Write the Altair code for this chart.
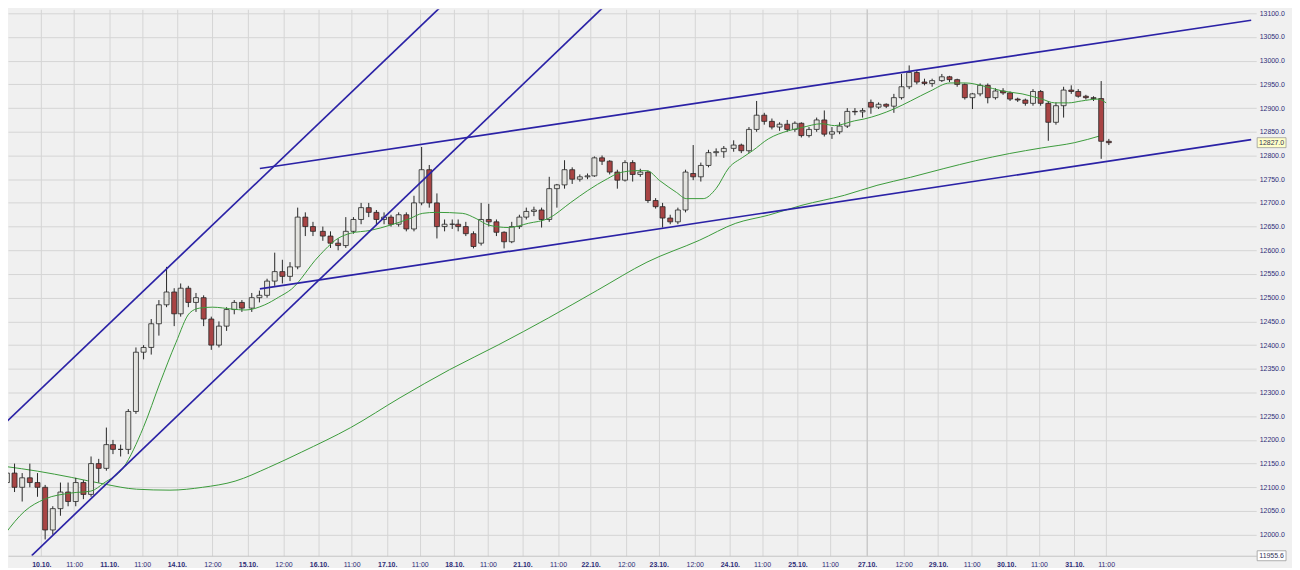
import altair as alt
import pandas as pd

# ---------------- data ----------------
days = ["09.10.", "10.10.", "11.10.", "14.10.", "15.10.", "16.10.", "17.10.", "18.10.",
        "21.10.", "22.10.", "23.10.", "24.10.", "25.10.", "27.10.", "29.10.", "30.10.", "31.10."]
# axis positions (in "day" units) of the date ticks and mid-day ticks
date_pos = [0.0, 0.985, 1.968, 3.0, 4.032, 5.022, 5.997, 6.986, 7.975, 8.965,
            9.997, 10.98, 11.99, 13.02, 14.01, 15.0]
mid_pos = [0.477, 1.464, 2.485, 3.517, 4.506, 5.495, 6.485, 7.503, 8.492, 9.488,
           10.465, 11.452, 12.52, 13.51, 14.485, 15.46]
mid_lab = ["11:00", "11:00", "12:00", "12:00", "11:00", "11:00", "11:00", "11:00",
           "12:00", "12:00", "11:00", "11:00", "12:00", "11:00", "11:00", "11:00"]
day_start = [-1.0] + date_pos
first_slot = [4] + [0] * 16
n_slots = [5] + [9] * 15 + [5]
SLOTS_PER_DAY = 9

open_ = [
    12110, 12130, 12100, 12120, 12110,
    12100, 12010, 12055, 12090, 12070, 12110, 12085, 12150, 12140,
    12190, 12180, 12180, 12260, 12385, 12395, 12445, 12485, 12512,
    12466, 12520, 12490, 12500, 12455, 12400, 12440, 12475, 12490,
    12478, 12500, 12505, 12535, 12555, 12545, 12565, 12670, 12650,
    12640, 12630, 12615, 12610, 12640, 12665, 12690, 12680, 12665,
    12670, 12655, 12675, 12645, 12700, 12770, 12700, 12650, 12655,
    12655, 12650, 12635, 12615, 12665, 12660, 12638, 12618, 12650,
    12670, 12682, 12685, 12665, 12730, 12738, 12770, 12750, 12755,
    12757, 12795, 12788, 12765, 12748, 12785, 12760, 12765, 12705,
    12692, 12668, 12660, 12685, 12762, 12755, 12779, 12806, 12808,
    12815, 12822, 12810, 12855, 12885, 12872, 12860, 12866, 12855,
    12868, 12842, 12855, 12875, 12845, 12850, 12862, 12893, 12892,
    12912, 12902, 12908, 12904, 12922, 12945, 12975, 12955, 12952,
    12958, 12966, 12960, 12950, 12922, 12930, 12948, 12922, 12936,
    12932, 12919, 12917, 12910, 12935, 12910, 12870, 12905, 12938,
    12935, 12925, 12922, 12920, 12830,
]
high = [
    12140, 12150, 12130, 12150, 12130,
    12105, 12060, 12110, 12110, 12120, 12115, 12165, 12160, 12226,
    12200, 12190, 12265, 12395, 12400, 12455, 12495, 12565, 12520,
    12530, 12525, 12510, 12505, 12460, 12450, 12480, 12495, 12495,
    12510, 12515, 12540, 12595, 12580, 12575, 12690, 12680, 12660,
    12650, 12640, 12625, 12670, 12670, 12700, 12700, 12685, 12680,
    12675, 12680, 12680, 12715, 12818, 12780, 12720, 12665, 12665,
    12665, 12660, 12640, 12700, 12698, 12665, 12640, 12660, 12675,
    12690, 12692, 12690, 12755, 12740, 12790, 12775, 12760, 12762,
    12798, 12800, 12790, 12770, 12790, 12790, 12772, 12768, 12710,
    12700, 12675, 12690, 12770, 12822, 12785, 12812, 12815, 12820,
    12832, 12825, 12860, 12915, 12890, 12878, 12870, 12875, 12872,
    12870, 12860, 12880, 12895, 12860, 12870, 12900, 12900, 12900,
    12918, 12912, 12910, 12930, 12972, 12990, 12980, 12962, 12962,
    12972, 12968, 12962, 12952, 12932, 12952, 12952, 12942, 12942,
    12935, 12922, 12920, 12940, 12938, 12915, 12912, 12945, 12948,
    12940, 12928, 12925, 12957, 12835,
]
low = [
    12060, 12090, 12070, 12100, 12080,
    11990, 12000, 12040, 12060, 12060, 12075, 12080, 12110, 12135,
    12170, 12165, 12170, 12255, 12370, 12380, 12420, 12480, 12440,
    12460, 12480, 12470, 12440, 12390, 12395, 12430, 12465, 12470,
    12470, 12490, 12500, 12525, 12530, 12535, 12560, 12630, 12630,
    12620, 12605, 12600, 12605, 12635, 12655, 12670, 12655, 12655,
    12650, 12650, 12640, 12640, 12695, 12690, 12625, 12640, 12645,
    12640, 12630, 12604, 12610, 12650, 12630, 12604, 12615, 12645,
    12665, 12672, 12648, 12660, 12690, 12730, 12740, 12745, 12750,
    12755, 12780, 12760, 12730, 12745, 12745, 12755, 12700, 12688,
    12648, 12655, 12655, 12680, 12748, 12745, 12775, 12798, 12795,
    12808, 12805, 12805, 12850, 12865, 12855, 12852, 12850, 12850,
    12838, 12838, 12850, 12840, 12835, 12845, 12858, 12885, 12880,
    12888, 12898, 12900, 12890, 12918, 12940, 12950, 12948, 12945,
    12955, 12955, 12945, 12918, 12898, 12925, 12910, 12918, 12928,
    12915, 12913, 12905, 12905, 12905, 12831, 12865, 12880, 12930,
    12922, 12918, 12915, 12793, 12822,
]
close = [
    12130, 12100, 12120, 12110, 12100,
    12010, 12055, 12090, 12070, 12110, 12085, 12150, 12140, 12190,
    12180, 12180, 12260, 12385, 12395, 12445, 12485, 12512, 12466,
    12520, 12490, 12500, 12455, 12400, 12440, 12475, 12490, 12478,
    12500, 12505, 12535, 12555, 12545, 12565, 12670, 12650, 12640,
    12630, 12615, 12610, 12640, 12665, 12690, 12680, 12665, 12670,
    12655, 12675, 12645, 12700, 12770, 12700, 12650, 12655, 12655,
    12650, 12635, 12608, 12665, 12660, 12638, 12618, 12650, 12670,
    12682, 12685, 12665, 12730, 12738, 12770, 12750, 12755, 12757,
    12795, 12788, 12765, 12748, 12785, 12760, 12765, 12705, 12692,
    12668, 12660, 12685, 12765, 12755, 12779, 12806, 12808, 12815,
    12822, 12810, 12855, 12885, 12872, 12860, 12866, 12855, 12868,
    12842, 12855, 12875, 12845, 12850, 12862, 12893, 12892, 12895,
    12902, 12908, 12904, 12922, 12945, 12975, 12955, 12952, 12958,
    12966, 12960, 12950, 12922, 12930, 12948, 12922, 12936, 12932,
    12919, 12917, 12910, 12935, 12910, 12870, 12905, 12938, 12935,
    12925, 12922, 12920, 12830, 12827,
]

# short moving average
ma_short_t = [-0.526, -0.239, 0.047, 0.434, 0.721, 0.908, 1.194, 1.481, 1.725, 1.954,
              2.155, 2.298, 2.485, 2.771, 2.958, 3.245, 3.446, 3.632, 4.019, 4.306,
              4.493, 4.778, 5.065, 5.352, 5.538, 5.739, 6.112, 6.313, 6.499, 6.786,
              7.073, 7.359, 7.689, 7.933, 8.220, 8.406, 8.650, 8.793, 8.979, 9.223,
              9.366, 9.610, 9.796, 9.983, 10.184, 10.327, 10.556, 10.843, 11.044, 11.331,
              11.517, 11.804, 11.947, 12.377, 12.621, 12.908, 13.194, 13.424, 13.667, 13.954,
              14.241, 14.527, 14.714, 14.915, 15.101, 15.345, 15.460]
ma_short_v = [12002, 12050, 12075, 12088, 12092, 12109, 12142, 12226, 12321, 12405,
              12468, 12478, 12480, 12476, 12474, 12485, 12501, 12518, 12586, 12625,
              12636, 12642, 12653, 12667, 12678, 12680, 12678, 12667, 12653, 12648,
              12657, 12667, 12701, 12726, 12751, 12764, 12768, 12768, 12747, 12722,
              12709, 12709, 12730, 12774, 12796, 12810, 12835, 12852, 12859, 12867,
              12863, 12873, 12877, 12898, 12915, 12936, 12953, 12953, 12947, 12936,
              12930, 12919, 12911, 12911, 12915, 12919, 12911]

# long moving average
ma_long_t = [-0.526, -0.053, 0.434, 0.908, 1.381, 1.868, 2.341, 2.814, 3.302, 3.775,
             4.492, 5.209, 5.926, 6.643, 7.360, 8.077, 8.794, 9.553, 10.083, 10.556,
             11.044, 11.660, 12.133, 12.621, 13.094, 13.567, 14.054, 14.527, 15.000, 15.387]
ma_long_v = [12144, 12134, 12121, 12107, 12096, 12094, 12100, 12113, 12142, 12174,
             12226, 12289, 12348, 12401, 12457, 12516, 12575, 12621, 12657, 12674,
             12695, 12716, 12737, 12754, 12772, 12789, 12804, 12816, 12827, 12842]

# hand-drawn trend / channel lines (start and end points)
trend_t0 = [-0.526, -0.139, 3.173, 3.173]
trend_v0 = [12235.2, 11956.0, 12772.6, 12518.6]
trend_t1 = [5.883, 8.248, 17.567, 17.567]
trend_v1 = [13125.2, 13125.2, 13085.3, 12833.4]

y_ticks = list(range(12000, 13101, 50))
y_min, y_max = 11955.6, 13108.4
x_min, x_max = -0.4115, 17.567
last_price = 12827.0
week_sep = [11.99]

# ---------------- build tables ----------------
rows = []
k = 0
for d, name in enumerate(days):
    for j in range(first_slot[d], first_slot[d] + n_slots[d]):
        rows.append({"t": day_start[d] + (j + 0.5) / SLOTS_PER_DAY,
                     "open": open_[k], "high": high[k], "low": low[k], "close": close[k]})
        k += 1
candles = pd.DataFrame(rows)

ma_s = pd.DataFrame({"t": ma_short_t, "v": ma_short_v})
ma_l = pd.DataFrame({"t": ma_long_t, "v": ma_long_v})
trend = pd.DataFrame(
    [{"seg": i, "t": trend_t0[i], "v": trend_v0[i]} for i in range(4)] +
    [{"seg": i, "t": trend_t1[i], "v": trend_v1[i]} for i in range(4)]
)

tick_pos = date_pos + mid_pos
tick_lab = days[1:] + mid_lab
pos_js = "[" + ",".join(repr(p) for p in tick_pos) + "]"
lab_js = "[" + ",".join("'" + l + "'" for l in tick_lab) + "]"
label_expr = f"{lab_js}[indexof({pos_js}, datum.value)]"

FONT = "Liberation Sans"
LABEL_COLOR = "#2e2e78"
GRID = "#d5d5d5"

xscale = alt.Scale(domain=[x_min, x_max], nice=False, zero=False)
yscale = alt.Scale(domain=[y_min, y_max], nice=False, zero=False)

x_axis = alt.Axis(values=tick_pos, labelExpr=label_expr, grid=True, gridColor=GRID,
                  ticks=False, domain=True, domainColor="#c4c4c4", labelFont=FONT,
                  labelFontSize=7, labelColor=LABEL_COLOR, labelPadding=5,
                  labelOverlap=False, labelFlush=False, title=None,
                  labelFontWeight={"condition": {
                      "test": "(datum.value - floor(datum.value)) < 0.25 || (datum.value - floor(datum.value)) > 0.75",
                      "value": "bold"}, "value": "normal"})
y_axis = alt.Axis(orient="right", values=y_ticks, format=".1f", grid=True, gridColor=GRID,
                  ticks=False, domain=False, labelFont=FONT, labelFontSize=7,
                  labelColor=LABEL_COLOR, labelPadding=3, labelOverlap=False,
                  labelFlush=False, title=None)


def X(field):
    return alt.X(field, scale=xscale, axis=x_axis)


def Y(field):
    return alt.Y(field, scale=yscale, axis=y_axis)


base = alt.Chart(candles).encode(x=X("t:Q"))

sep = alt.Chart(pd.DataFrame({"t": week_sep})).mark_rule(
    color="#c2c2c2", strokeWidth=1).encode(x=X("t:Q"))

wicks = base.mark_rule(color="#262626", strokeWidth=1, clip=True).encode(
    y=Y("low:Q"), y2="high:Q")

bodies = base.mark_bar(size=5, stroke="#262626", strokeWidth=0.8, clip=True).encode(
    y=Y("open:Q"), y2="close:Q",
    color=alt.condition("datum.close >= datum.open", alt.value("#e4e4e0"), alt.value("#a84444")))

ma_long_line = alt.Chart(ma_l).mark_line(color="#3a9a3a", strokeWidth=1, clip=True,
                                         interpolate="monotone").encode(
    x=X("t:Q"), y=Y("v:Q"))
ma_short_line = alt.Chart(ma_s).mark_line(color="#3a9a3a", strokeWidth=1, clip=True,
                                          interpolate="monotone").encode(
    x=X("t:Q"), y=Y("v:Q"))

trend_lines = alt.Chart(trend).mark_line(color="#2b22a6", strokeWidth=1.7, clip=True).encode(
    x=X("t:Q"), y=Y("v:Q"), detail="seg:N")

# price boxes at the right axis
boxes = pd.DataFrame({"v": [last_price, y_min],
                      "label": [f"{last_price:.1f}", f"{y_min:.1f}"],
                      "fill": ["#ffffc8", "#ffffff"]})
box_rect = alt.Chart(boxes).transform_calculate(
    lo="datum.v - 10.5", hi="datum.v + 10.5").mark_rect(
    stroke="#9a9a9a", strokeWidth=0.8).encode(
    x=alt.value(1255), x2=alt.value(1284),
    y=Y("lo:Q"), y2="hi:Q",
    fill=alt.Fill("fill:N", scale=None))
box_text = alt.Chart(boxes).mark_text(font=FONT, fontSize=7, color="#333355",
                                      align="center", baseline="middle").encode(
    x=alt.value(1269.5), y=Y("v:Q"), text="label:N")

chart = alt.layer(
    sep, ma_long_line, wicks, bodies, ma_short_line, trend_lines, box_rect, box_text
).properties(
    width=1254, height=549,
    padding={"left": 0, "top": 0, "right": 36, "bottom": 11},
    autosize=alt.AutoSizeParams(type="none"),
).configure(background="#f0f0f0").configure_view(strokeWidth=0, fill="#f0f0f0")

chart.save("out.html", embed_options={"renderer": "svg", "actions": False})
